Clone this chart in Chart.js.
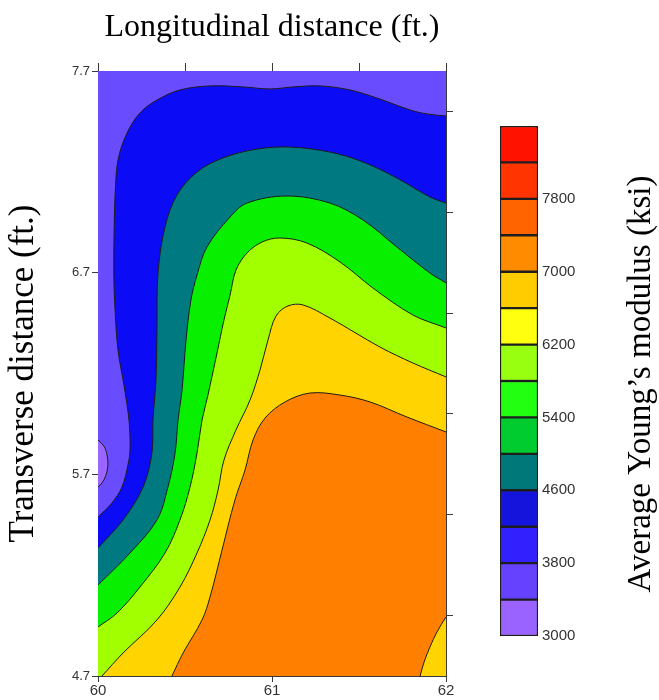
<!DOCTYPE html>
<html>
<head>
<meta charset="utf-8">
<script src="https://cdn.jsdelivr.net/npm/chart.js@4.4.1/dist/chart.umd.min.js"></script>
<style>
  html, body { margin: 0; padding: 0; background: #ffffff; }
  #wrap { position: relative; width: 659px; height: 700px; }
  #map { position: absolute; left: 0; top: 0; }
  #bar { position: absolute; left: 480px; top: 0; }
</style>
</head>
<body>
<div id="wrap">
  <canvas id="map" width="480" height="700"></canvas>
  <canvas id="bar" width="179" height="700"></canvas>
</div>
<script>
// Survey window (ft)
const X_RANGE = [60, 62];
const Y_RANGE = [4.7, 7.7];
const X_TICKS = [60, 61, 62];
const X_MINOR = [60, 60.5, 61, 61.5, 62];
const Y_TICKS = [4.7, 5.7, 6.7, 7.7];
const Y_MINOR = [5.0, 5.5, 6.0, 6.5, 7.0, 7.5];

// Contour lines of average Young's modulus (ksi), [longitudinal, transverse] in ft
const iso3400 = [[60.000,5.870],[60.034,5.840],[60.052,5.796],[60.057,5.746],[60.046,5.696],[60.023,5.657],[60.000,5.637]];
const iso3800 = [[60.000,5.488],[60.080,5.558],[60.138,5.637],[60.172,5.746],[60.184,5.821],[60.178,5.969],[60.149,6.143],[60.115,6.316],[60.098,6.515],[60.091,6.698],[60.093,6.926],[60.099,7.095],[60.115,7.259],[60.167,7.393],[60.241,7.492],[60.339,7.556],[60.471,7.606],[60.644,7.626],[60.833,7.621],[60.989,7.611],[61.121,7.621],[61.276,7.626],[61.448,7.606],[61.603,7.566],[61.793,7.507],[61.891,7.487],[62.000,7.477]];
const iso4600 = [[60.000,5.335],[60.144,5.474],[60.259,5.637],[60.310,5.806],[60.316,5.969],[60.333,6.168],[60.339,6.416],[60.345,6.698],[60.385,6.926],[60.454,7.085],[60.569,7.199],[60.718,7.269],[60.914,7.313],[61.103,7.323],[61.333,7.298],[61.523,7.249],[61.718,7.169],[61.908,7.075],[62.000,7.045]];
const iso5000 = [[60.000,5.151],[60.184,5.310],[60.339,5.474],[60.402,5.637],[60.443,5.806],[60.460,5.969],[60.483,6.118],[60.506,6.366],[60.534,6.564],[60.569,6.688],[60.626,6.827],[60.759,6.976],[60.856,7.045],[61.086,7.080],[61.333,7.045],[61.523,6.961],[61.718,6.827],[61.908,6.698],[62.000,6.649]];
const iso5800 = [[60.000,4.943],[60.109,5.012],[60.241,5.141],[60.385,5.310],[60.471,5.474],[60.529,5.637],[60.569,5.806],[60.598,5.969],[60.632,6.093],[60.684,6.302],[60.724,6.465],[60.759,6.589],[60.793,6.713],[60.856,6.797],[60.943,6.852],[61.046,6.872],[61.201,6.847],[61.391,6.753],[61.580,6.624],[61.810,6.490],[62.000,6.426]];
const iso6600 = [[60.023,4.700],[60.144,4.814],[60.339,4.978],[60.471,5.141],[60.569,5.310],[60.644,5.474],[60.690,5.622],[60.724,5.771],[60.793,5.920],[60.874,6.069],[60.931,6.217],[60.977,6.366],[61.023,6.485],[61.092,6.535],[61.178,6.540],[61.333,6.475],[61.621,6.331],[61.810,6.252],[62.000,6.183]];
const iso7000 = [[60.425,4.700],[60.489,4.814],[60.598,4.978],[60.644,5.092],[60.713,5.325],[60.787,5.573],[60.845,5.721],[60.891,5.870],[60.960,5.979],[61.075,6.059],[61.218,6.103],[61.391,6.093],[61.563,6.059],[61.776,5.984],[62.000,5.910]];
const iso7000corner = [[61.851,4.700],[61.874,4.769],[61.908,4.844],[61.948,4.918],[62.000,4.993]];

// Colour scale
const LEVELS = [3000, 3400, 3800, 4200, 4600, 5000, 5400, 5800, 6200, 6600, 7000, 7400, 7800, 8200, 8600];
const LEVEL_COLORS = ['#9a62ff', '#6642ff', '#3320ff', '#1414dc', '#00787a', '#00cc30', '#22ff10', '#99ff10', '#ffff10', '#ffcc00', '#ff8c00', '#ff6400', '#ff3400', '#ff1200'];
const CB_TICKS = [3000, 3800, 4600, 5400, 6200, 7000, 7800];

const X_TITLE = 'Longitudinal distance (ft.)';
const Y_TITLE = 'Transverse distance (ft.)';
const CB_TITLE = 'Average Young\u2019s modulus (ksi)';

// Filled bands, painted from the lowest level upward; each fills below/right of its line
const bands = [
  { pts: [[X_RANGE[0], Y_RANGE[1]], [X_RANGE[1], Y_RANGE[1]]], color: '#6a4cff', edge: false },
  { pts: iso3800, color: '#0b0bf6' },
  { pts: iso4600, color: '#007a80' },
  { pts: iso5000, color: '#08f000' },
  { pts: iso5800, color: '#a2ff00' },
  { pts: iso6600, color: '#ffd400' },
  { pts: iso7000, color: '#ff8000' },
  { pts: iso7000corner, color: '#ffd400' },
  { pts: iso3400, color: '#9a66ff', shape: true }
];

const lineColor = '#1c1c1c';
const frameColor = '#3a3a3a';
const sans = 'Liberation Sans, Arial, sans-serif';
const serif = 'Liberation Serif, Times New Roman, serif';

const datasets = bands.map((b, i) => ({
  data: b.pts.map(([x, y]) => ({ x, y })),
  backgroundColor: b.color,
  borderColor: b.edge === false ? 'rgba(0,0,0,0)' : lineColor,
  borderWidth: b.edge === false ? 0 : 1,
  fill: b.shape ? 'shape' : 'start',
  order: bands.length - i,
  tension: 0.35,
  pointRadius: 0,
  pointHoverRadius: 0
}));

const setTicks = list => scale => { scale.ticks = list.map(v => ({ value: v })); };

new Chart(document.getElementById('map'), {
  type: 'line',
  data: { datasets },
  options: {
    responsive: false,
    animation: false,
    events: [],
    layout: { padding: 0 },
    plugins: { legend: { display: false }, tooltip: { enabled: false } },
    scales: {
      x: {
        type: 'linear', position: 'bottom', min: X_RANGE[0], max: X_RANGE[1],
        afterBuildTicks: setTicks(X_TICKS),
        afterFit: s => { s.height = 24; },
        grid: { drawOnChartArea: false, drawTicks: true, tickLength: 6, color: frameColor },
        border: { display: true, color: frameColor, width: 1 },
        ticks: { font: { family: sans, size: 15 }, color: '#333', padding: 0, maxRotation: 0, autoSkip: false, callback: v => String(v) }
      },
      x2: {
        type: 'linear', position: 'top', min: X_RANGE[0], max: X_RANGE[1],
        afterBuildTicks: setTicks(X_MINOR),
        afterFit: s => { s.height = 71; },
        grid: { drawOnChartArea: false, drawTicks: true, tickLength: 8, color: frameColor },
        border: { display: true, color: frameColor, width: 1 },
        ticks: { display: false },
        title: { display: true, text: X_TITLE, color: '#000', font: { family: serif, size: 32 }, padding: { top: 8, bottom: 0 } }
      },
      y: {
        type: 'linear', position: 'left', min: Y_RANGE[0], max: Y_RANGE[1],
        afterBuildTicks: setTicks(Y_TICKS),
        afterFit: s => { s.width = 98; },
        grid: { drawOnChartArea: false, drawTicks: true, tickLength: 6, color: frameColor },
        border: { display: true, color: frameColor, width: 1 },
        ticks: { font: { family: sans, size: 13 }, color: '#333', padding: 2, callback: v => v.toFixed(1) },
        title: { display: true, text: Y_TITLE, color: '#000', font: { family: serif, size: 35 }, padding: { top: 3, bottom: 0 } }
      },
      y2: {
        type: 'linear', position: 'right', min: Y_RANGE[0], max: Y_RANGE[1],
        afterBuildTicks: setTicks(Y_MINOR),
        afterFit: s => { s.width = 34; },
        grid: { drawOnChartArea: false, drawTicks: true, tickLength: 7, color: frameColor },
        border: { display: true, color: frameColor, width: 1 },
        ticks: { display: false }
      }
    }
  }
});

// Vertical caption beside the colour scale, reading bottom to top
const scaleCaption = {
  id: 'scaleCaption',
  afterDraw(chart) {
    const ctx = chart.ctx;
    ctx.save();
    ctx.translate(161, 384);
    ctx.rotate(-Math.PI / 2);
    ctx.font = '33px ' + serif;
    ctx.fillStyle = '#000';
    ctx.textAlign = 'center';
    ctx.textBaseline = 'middle';
    ctx.fillText(CB_TITLE, 0, 0);
    ctx.restore();
  }
};

new Chart(document.getElementById('bar'), {
  type: 'bar',
  data: {
    labels: [''],
    datasets: LEVEL_COLORS.map((c, i) => ({
      data: [[LEVELS[i], LEVELS[i + 1]]],
      backgroundColor: c,
      borderColor: '#1e1e1e',
      borderWidth: 1.5,
      borderSkipped: false,
      barPercentage: 1,
      categoryPercentage: 1,
      grouped: false
    }))
  },
  options: {
    responsive: false,
    animation: false,
    events: [],
    layout: { padding: { left: 20, top: 126, bottom: 64, right: 0 } },
    plugins: { legend: { display: false }, tooltip: { enabled: false } },
    scales: {
      x: { display: false },
      y: {
        position: 'right', min: LEVELS[0], max: LEVELS[LEVELS.length - 1],
        afterBuildTicks: setTicks(CB_TICKS),
        afterFit: s => { s.width = 121; },
        grid: { display: false, drawTicks: false },
        border: { display: false },
        ticks: { font: { family: sans, size: 15 }, color: '#333', padding: 4, callback: v => String(v) }
      }
    }
  },
  plugins: [scaleCaption]
});
</script>
</body>
</html>
